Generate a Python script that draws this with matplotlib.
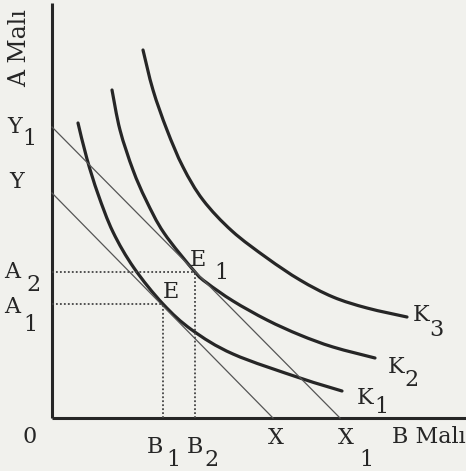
import numpy as np
import matplotlib
matplotlib.use("Agg")
import matplotlib.pyplot as plt
from matplotlib.path import Path
from matplotlib.patches import PathPatch

# indifference curves (B Malı, A Malı)
k1_x = [2.6, 3.5, 4.6, 6.1, 8.2, 11.1, 14.0, 18.1, 24.8, 29.0]
k1_y = [29.5, 25.9, 22.4, 18.6, 15.0, 11.4, 8.8, 6.4, 4.0, 2.7]
k2_x = [6.0, 6.8, 8.1, 9.4, 11.2, 14.3, 15.5, 18.1, 21.5, 24.8, 28.1, 32.3]
k2_y = [32.8, 28.8, 24.8, 21.8, 18.5, 14.6, 13.5, 11.7, 9.8, 8.3, 7.1, 6.0]
k3_x = [9.1, 10.1, 11.5, 13.1, 15.1, 18.0, 21.5, 24.8, 28.1, 31.5, 35.5]
k3_y = [36.8, 32.8, 28.8, 25.1, 21.8, 18.7, 16.0, 13.8, 12.1, 11.0, 10.1]

# budget lines: intercepts
Y, X = 22.5, 22.1
Y1, X1 = 29.1, 28.8

# equilibrium points
E = (11.1, 11.4)
E1 = (14.3, 14.6)

x_max, y_max = 41.4, 41.5

ink = "#262626"


def smooth_path(xs, ys):
    # Catmull-Rom through the read points, drawn as cubic Bezier segments
    p = np.column_stack([xs, ys])
    verts = [p[0]]
    codes = [Path.MOVETO]
    for i in range(len(p) - 1):
        p0 = p[i - 1] if i > 0 else p[i]
        p3 = p[i + 2] if i + 2 < len(p) else p[i + 1]
        c1 = p[i] + (p[i + 1] - p0) / 6
        c2 = p[i + 1] - (p3 - p[i]) / 6
        verts += [c1, c2, p[i + 1]]
        codes += [Path.CURVE4] * 3
    return Path(verts, codes)


fig = plt.figure(figsize=(4.66, 4.71), dpi=100)
fig.patch.set_facecolor("#f1f1ed")
ax = fig.add_axes([0, 0, 1, 1])
ax.set_xlim(-5.2, 41.4)
ax.set_ylim(-5.3, 41.8)
ax.axis("off")

# axes
ax.plot([0, 0], [0, y_max], color=ink, lw=2.2, solid_capstyle="butt")
ax.plot([0, x_max], [0, 0], color=ink, lw=2.2, solid_capstyle="butt")

# budget lines
ax.plot([0, X], [Y, 0], color="#555555", lw=0.9)
ax.plot([0, X1], [Y1, 0], color="#555555", lw=0.9)

# curves
for cx, cy in [(k1_x, k1_y), (k2_x, k2_y), (k3_x, k3_y)]:
    ax.add_patch(PathPatch(smooth_path(cx, cy), fill=False, edgecolor=ink,
                           lw=2.3, capstyle="round", joinstyle="round"))

# dotted guides
dot = dict(color="#444444", lw=1.3, ls=(0, (1, 1.2)))
ax.plot([0, E1[0]], [E1[1], E1[1]], **dot)
ax.plot([0, E[0]], [E[1], E[1]], **dot)
ax.plot([E[0], E[0]], [0, E[1]], **dot)
ax.plot([E1[0], E1[0]], [0, E1[1]], **dot)

fnt = dict(family="DejaVu Serif", fontsize=16, color=ink)


def lab(x, y, s, sub=None, dx=1.5, dy=-1.3):
    ax.text(x, y, s, ha="center", va="center", **fnt)
    if sub:
        ax.text(x + dx, y + dy, sub, ha="center", va="center", **fnt)


ax.text(-3.2, 37.0, "A Malı", rotation=90, ha="center", va="center",
        family="DejaVu Serif", fontsize=17, color=ink)
lab(-3.7, Y1, "Y", "1", dx=1.4, dy=-1.2)
lab(-3.5, Y + 1.1, "Y")
lab(-4.0, E1[1], "A", "2", dx=2.2, dy=-1.3)
lab(-4.0, E[1] - 0.3, "A", "1", dx=1.8, dy=-1.8)
lab(-2.2, -1.9, "0")
lab(E[0] - 0.8, -2.9, "B", "1", dx=1.8, dy=-1.3)
lab(E1[0] + 0.0, -2.9, "B", "2", dx=1.7, dy=-1.3)
lab(X + 0.3, -2.0, "X")
lab(X1 + 0.6, -2.0, "X", "1", dx=2.0, dy=-2.2)
ax.text(34.0, -1.9, "B Malı", ha="left", va="center",
        family="DejaVu Serif", fontsize=16, color=ink)
lab(E1[0] + 0.3, E1[1] + 1.2, "E", "1", dx=2.3, dy=-1.3)
lab(E[0] + 0.8, E[1] + 1.2, "E")
lab(36.9, 10.3, "K", "3", dx=1.5, dy=-1.5)
lab(34.4, 5.1, "K", "2", dx=1.5, dy=-1.3)
lab(31.3, 2.0, "K", "1", dx=1.6, dy=-0.9)

fig.savefig("out.png", dpi=100, facecolor=fig.get_facecolor())
